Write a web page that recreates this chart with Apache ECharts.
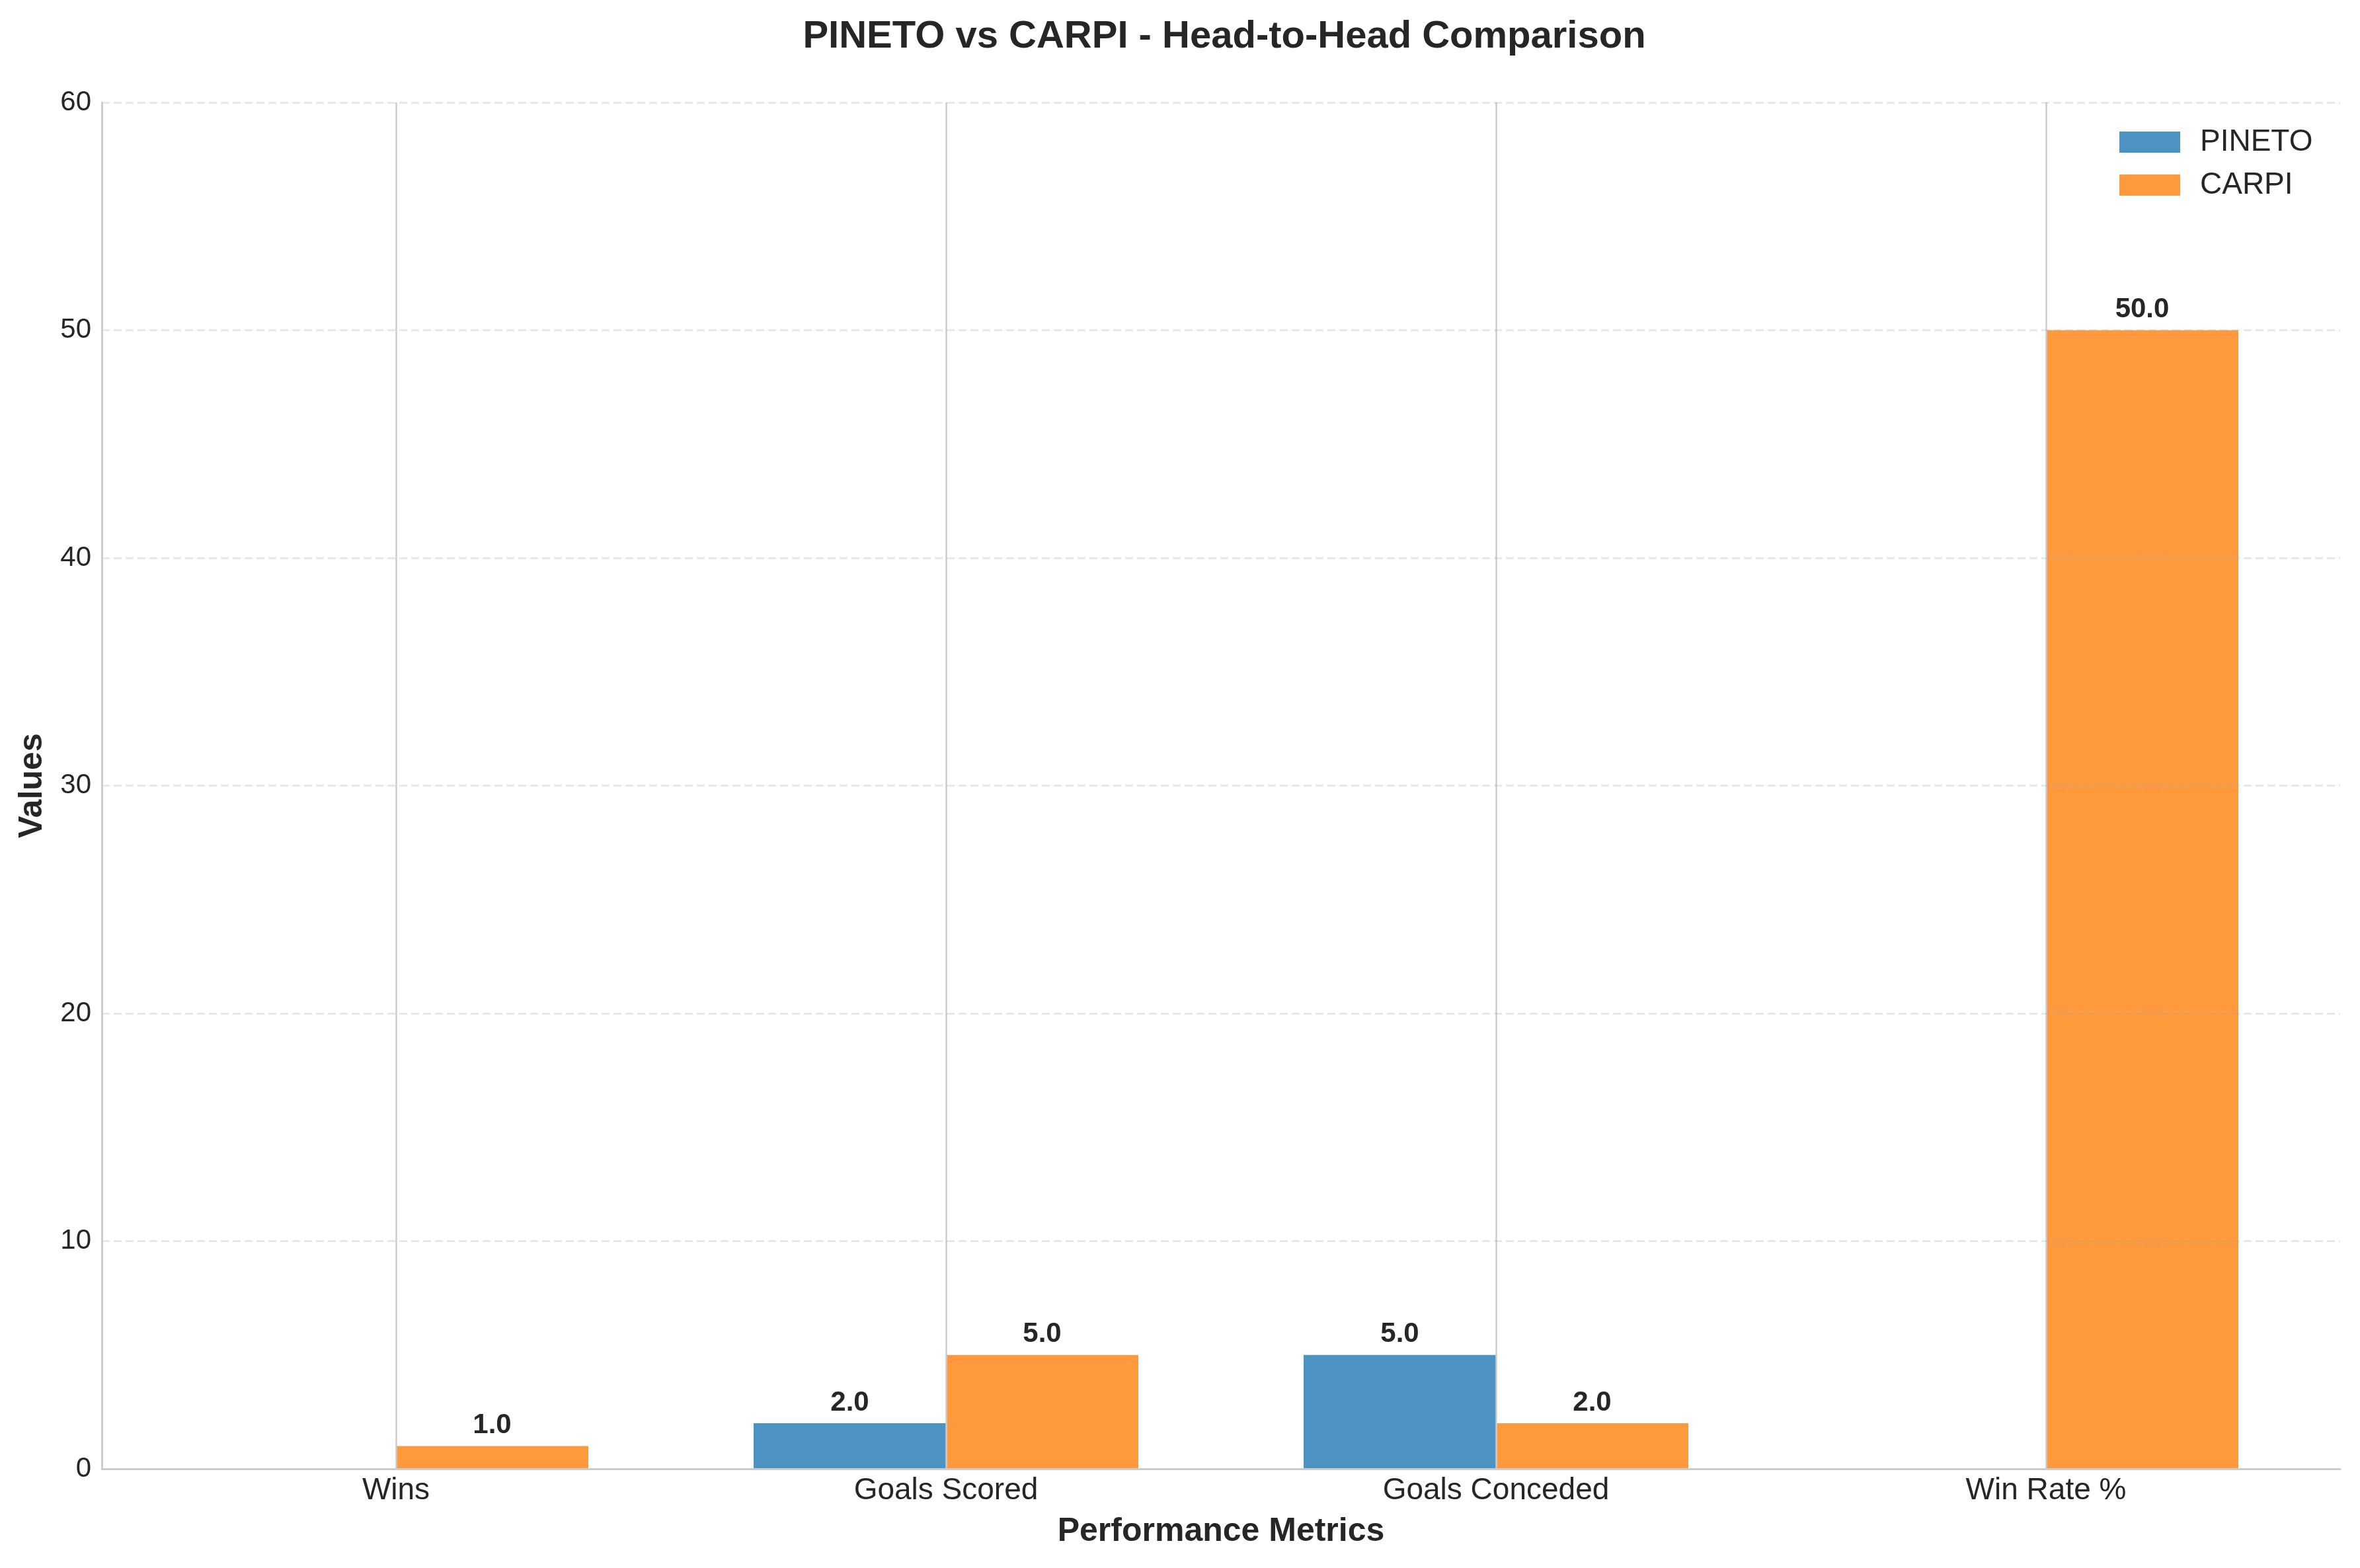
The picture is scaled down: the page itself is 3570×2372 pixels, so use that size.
<!DOCTYPE html>
<html>
<head>
<meta charset="utf-8">
<script src="https://cdn.jsdelivr.net/npm/echarts@6/dist/echarts.min.js"></script>
<style>html,body{margin:0;padding:0;background:#fff}#c{width:3570px;height:2372px}</style>
</head>
<body>
<div id="c"></div>
<script>
const categories = ['Wins', 'Goals Scored', 'Goals Conceded', 'Win Rate %'];
const pinetoValues = [0, 2, 5, 0];
const carpiValues = [1, 5, 2, 50];
const seriesNames = ['PINETO', 'CARPI'];
const yMin = 0, yMax = 60, yStep = 10;

const FONT = '"Liberation Sans", Arial, Helvetica, sans-serif';
const TXT = '#262626';
const chart = echarts.init(document.getElementById('c'), null, {renderer: 'canvas'});

const labelFmt = p => (p.value ? Number(p.value).toFixed(1) : '');

chart.setOption({
  animation: false,
  backgroundColor: '#ffffff',
  title: {
    text: 'PINETO vs CARPI - Head-to-Head Comparison',
    left: 1847, top: 22, textAlign: 'center',
    textStyle: {fontFamily: FONT, fontSize: 58, fontWeight: 'bold', color: TXT}
  },
  legend: {
    orient: 'vertical', left: 3201, top: 187,
    itemWidth: 92, itemHeight: 32, itemGap: 19,
    icon: 'rect',
    data: seriesNames,
    textStyle: {fontFamily: FONT, fontSize: 46, color: TXT, padding: [0, 0, 0, 25]}
  },
  grid: [
    {left: 154, right: 30, top: 155, bottom: 150, outerBoundsMode: 'none', containLabel: false},
    {left: 183, right: 59, top: 155, bottom: 150, outerBoundsMode: 'none', containLabel: false},
    {left: 599, right: 475, top: 155, bottom: 150, outerBoundsMode: 'none', containLabel: false}
  ],
  xAxis: [
    {gridIndex: 0, type: 'value', min: 0, max: 1, z: 6,
     axisLine: {show: true, lineStyle: {color: '#cccccc', width: 3}},
     axisTick: {show: false}, axisLabel: {show: false}, splitLine: {show: false},
     name: 'Performance Metrics', nameLocation: 'middle', nameGap: 70,
     nameTextStyle: {fontFamily: FONT, fontSize: 50, fontWeight: 'bold', color: TXT}},
    {gridIndex: 1, type: 'category', data: categories, boundaryGap: true,
     axisLine: {show: false}, axisTick: {show: false}, splitLine: {show: false},
     axisLabel: {fontFamily: FONT, fontSize: 46, color: TXT, margin: 10}},
    {gridIndex: 2, type: 'value', min: 0, max: 3, interval: 1, z: 5,
     axisLine: {show: false}, axisTick: {show: false}, axisLabel: {show: false},
     splitLine: {show: true, lineStyle: {color: '#cccccc', width: 2.5}}}
  ],
  yAxis: [
    {gridIndex: 0, type: 'value', min: yMin, max: yMax, interval: yStep, z: 6,
     axisLine: {show: true, lineStyle: {color: '#cccccc', width: 3}},
     axisTick: {show: false},
     axisLabel: {fontFamily: FONT, fontSize: 42, color: TXT, margin: 16},
     splitLine: {show: true, lineStyle: {color: 'rgba(170,170,170,0.3)', width: 2.5, type: [12, 6]}},
     name: 'Values', nameLocation: 'middle', nameGap: 80, nameRotate: 90,
     nameTextStyle: {fontFamily: FONT, fontSize: 50, fontWeight: 'bold', color: TXT}},
    {gridIndex: 1, type: 'value', min: yMin, max: yMax, interval: yStep, show: false,
     splitLine: {show: false}},
    {gridIndex: 2, type: 'value', min: yMin, max: yMax, interval: yStep, show: false,
     splitLine: {show: false}}
  ],
  series: [
    {name: seriesNames[0], type: 'bar', xAxisIndex: 1, yAxisIndex: 1,
     data: pinetoValues, barWidth: 291, barGap: '0%',
     itemStyle: {color: '#4c92c3'},
     label: {show: true, position: 'top', distance: 10, formatter: labelFmt,
             fontFamily: FONT, fontSize: 42, fontWeight: 'bold', color: TXT}},
    {name: seriesNames[1], type: 'bar', xAxisIndex: 1, yAxisIndex: 1,
     data: carpiValues, barWidth: 291, barGap: '0%',
     itemStyle: {color: '#ff993e'},
     label: {show: true, position: 'top', distance: 10, formatter: labelFmt,
             fontFamily: FONT, fontSize: 42, fontWeight: 'bold', color: TXT}}
  ]
});
</script>
</body>
</html>
